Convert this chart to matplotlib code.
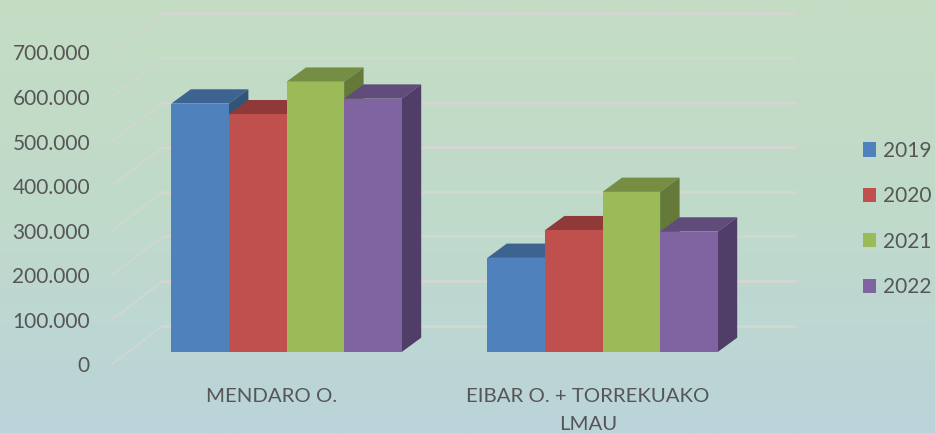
import numpy as np
import matplotlib
matplotlib.use("Agg")
import matplotlib.pyplot as plt
from matplotlib.colors import LinearSegmentedColormap
from matplotlib.patches import Polygon

categories = ["MENDARO O.", "EIBAR O. + TORREKUAKO\nLMAU"]
years = ["2019", "2020", "2021", "2022"]
values_2019 = [557000, 211000]
values_2020 = [533000, 273000]
values_2021 = [606000, 359000]
values_2022 = [568000, 270000]
series = [values_2019, values_2020, values_2021, values_2022]
y_ticks = [0, 100000, 200000, 300000, 400000, 500000, 600000, 700000]
y_labels = ["0", "100.000", "200.000", "300.000", "400.000", "500.000", "600.000", "700.000"]

front_colors = ["#4F81BD", "#C0504D", "#9BBB59", "#8064A2"]
top_colors = ["#3D6391", "#8F3A38", "#768E44", "#614B7B"]
side_colors = ["#335479", "#7A3331", "#657A39", "#513E68"]

plt.rcParams["font.family"] = "Lato"
text_color = "#565656"
grid_color = "#D3D7D1"

W, H = 935, 433
fig = plt.figure(figsize=(W / 100, H / 100), dpi=100)

# background gradient
bg = fig.add_axes([0, 0, 1, 1])
cmap = LinearSegmentedColormap.from_list("bg", ["#C4DDC3", "#C0DACB", "#BAD4DA"])
bg.imshow(np.linspace(0, 1, 256).reshape(-1, 1), aspect="auto", cmap=cmap)
bg.axis("off")

ax = fig.add_axes([0, 0, 1, 1])
ax.patch.set_alpha(0)
ax.axis("off")

# one category = 316 px, 100.000 = 44.6 px, front zero line at y=352 px
px_x = 1 / 316
px_y = 100000 / 44.6
x0 = 286.5
y0 = 352
ax.set_xlim(-x0 * px_x, (W - x0) * px_x)
ax.set_ylim(-(H - y0) * px_y, y0 * px_y)

bar_w = 57.6 * px_x
dx = 19.5 * px_x
dy = 14.3 * px_y
pos = np.arange(len(categories))

# walls: diagonal part on the floor side, then the back wall line
back = 26.5 * px_y
front = -11.5 * px_y
left_x = (113 - x0) * px_x
wall_x = (163 - x0) * px_x
right_x = (795 - x0) * px_x
for t, lab in zip(y_ticks, y_labels):
    ax.plot([left_x, wall_x], [t + front, t + back], color=grid_color, lw=1.3, alpha=0.85, zorder=1)
    ax.plot([wall_x, right_x], [t + back, t + back], color=grid_color, lw=2, zorder=1)
    ax.text((90 - x0) * px_x, t - 14.5 * px_y, lab, ha="right", va="center",
            fontsize=15, color=text_color)

handles = []
for c in range(len(categories)):
    for i, vals in enumerate(series):
        z = 3 + c * 10 + i
        left = pos[c] + (i - 2) * bar_w
        right = left + bar_w
        v = vals[c]
        b = ax.bar(left, v, bar_w, align="edge", color=front_colors[i], zorder=z + 0.5,
                   label=years[i] if c == 0 else None)
        if c == 0:
            handles.append(b)
        ax.add_patch(Polygon([(left, v), (left + dx, v + dy), (right + dx, v + dy), (right, v)],
                             closed=True, fc=top_colors[i], ec="none", zorder=z + 0.4))
        ax.add_patch(Polygon([(right, 0), (right + dx, dy), (right + dx, v + dy), (right, v)],
                             closed=True, fc=side_colors[i], ec="none", zorder=z + 0.4))

# category labels sit a bit left of the bars
label_off = -14.5 * px_x
for c, name in enumerate(categories):
    ax.text(pos[c] + label_off, -35.5 * px_y, name, ha="center", va="top",
            fontsize=14.7, color=text_color, linespacing=1.85)

leg = ax.legend(handles=handles, loc="center left", bbox_to_anchor=(862.5 / W, 1 - 219 / H),
                bbox_transform=fig.transFigure, frameon=False, fontsize=15, labelcolor=text_color,
                handlelength=0.67, handleheight=0.67, handletextpad=0.33, labelspacing=1.22,
                borderpad=0, borderaxespad=0)

fig.savefig("out.png", dpi=100)
